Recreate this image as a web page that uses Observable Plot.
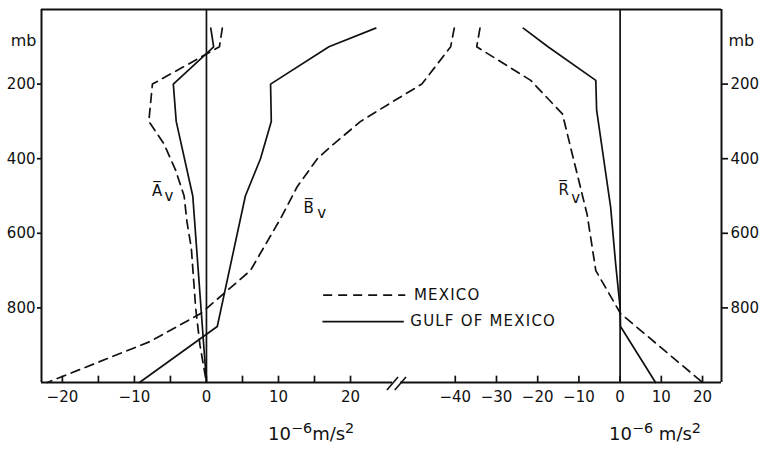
<!DOCTYPE html>
<html><head><meta charset="utf-8">
<script src="https://cdn.jsdelivr.net/npm/d3@7"></script>
<script src="https://cdn.jsdelivr.net/npm/@observablehq/plot@0.6"></script>
<style>
body{margin:0;background:#fff;}
#wrap{position:relative;width:765px;height:452px;font-family:"DejaVu Sans",sans-serif;color:#111;}
#wrap svg{position:absolute;left:0;top:0;}
.unit{position:absolute;top:425px;font-size:18px;line-height:1;white-space:nowrap;color:#111;}
.unit sup{font-size:0.8em;vertical-align:0.5em;line-height:0;}
</style></head><body>
<div id="wrap"></div>
<script>
// ---- data (pressure in mb, values in 10^-6 m/s^2) ----
const pAMexico = [50, 100, 200, 300, 360, 430, 500, 570, 640, 800, 900, 1000];
const aMexico  = [2.2, 1.8, -7.5, -8.0, -5.9, -4.3, -3.1, -2.7, -2.1, -1.5, -0.9, 0];
const pAGulf   = [50, 100, 200, 300, 500, 1000];
const aGulf    = [0.6, 1.0, -4.6, -4.2, -1.9, 0];

const pBMexico = [50, 100, 200, 250, 300, 360, 400, 475, 560, 700, 815, 890, 1000];
const bMexico  = [34.4, 33.9, 29.9, 25.6, 21.4, 17.7, 15.4, 12.6, 10.3, 6.1, -0.8, -7.8, -22.1];
const pBGulf   = [50, 100, 200, 300, 400, 500, 850, 1000];
const bGulf    = [23.5, 17.0, 8.9, 9.0, 7.5, 5.4, 1.5, -9.3];

const pRMexico = [50, 100, 190, 280, 550, 700, 815, 1000];
const rMexico  = [-34.0, -34.8, -21.7, -14.0, -8.0, -5.9, 0.1, 20.0];
const pRGulf   = [50, 100, 190, 270, 530, 680, 800, 850, 1000];
const rGulf    = [-23.5, -17.5, -5.9, -5.7, -2.3, -1.1, 0, 0.1, 8.6];

const yTicks        = [200, 400, 600, 800];
const leftTicks     = [-20, -15, -10, -5, 0, 5, 10, 15, 20];
const leftLabels    = [-20, -10, 0, 10, 20];
const rightTicks    = [-40, -30, -20, -10, 0, 10, 20];
const rightLabels   = [-40, -30, -20, -10, 0, 10, 20];
const seriesNames   = ["MEXICO", "GULF OF MEXICO"];

// ---- helpers ----
const rows = (p, v) => p.map((pp, i) => ({p: pp, v: v[i]}));
const ink = "#111";
const dash = "9,6";
const W = 765, H = 452;
const margins = {marginLeft: 41, marginRight: 44, marginTop: 9, marginBottom: 70};
const yScale = {domain: [1000, 0]};
const leftDomain = [-22.9, 71.5];
const rightDomain = [-140.4, 24.6];
const breakX = 26.4;           // axis break, in left-panel units
const tickLen = 17;            // inward tick length, mb
const style = {fontFamily: "DejaVu Sans, sans-serif", fontSize: "15px", background: "transparent", color: ink};

const left = Plot.plot({
  width: W, height: H, ...margins, style,
  x: {domain: leftDomain}, y: yScale,
  marks: [
    Plot.ruleY([0], {stroke: ink, strokeWidth: 2}),
    Plot.ruleX([leftDomain[0], leftDomain[1]], {stroke: ink, strokeWidth: 2}),
    Plot.ruleY([1000], {x1: leftDomain[0], x2: breakX - 0.55, stroke: ink, strokeWidth: 2}),
    Plot.ruleY([1000], {x1: breakX + 0.55, x2: leftDomain[1], stroke: ink, strokeWidth: 2}),
    Plot.link([{x1: breakX - 1.35, x2: breakX + 0.2, y1: 1020, y2: 985},
               {x1: breakX - 0.25, x2: breakX + 1.3, y1: 1020, y2: 985}],
              {x1: "x1", x2: "x2", y1: "y1", y2: "y2", stroke: ink, strokeWidth: 1.6}),
    Plot.ruleX([0], {stroke: ink, strokeWidth: 1.7}),
    Plot.ruleX(leftTicks, {y1: 1000, y2: 1000 - tickLen, stroke: ink, strokeWidth: 1.7}),
    Plot.axisX({ticks: leftLabels, tickSize: 0, tickPadding: 9, label: null, fontSize: 15}),
    Plot.axisY({anchor: "left", ticks: yTicks, tickSize: 4, tickPadding: 2, label: null, strokeWidth: 1.7, fontSize: 15}),
    Plot.text([{t: "mb", p: 84}], {text: "t", y: "p", frameAnchor: "left", textAnchor: "end", dx: -5, fontSize: 16}),
    Plot.line(rows(pAMexico, aMexico), {x: "v", y: "p", stroke: ink, strokeWidth: 1.7, strokeDasharray: dash}),
    Plot.line(rows(pAGulf, aGulf), {x: "v", y: "p", stroke: ink, strokeWidth: 1.7}),
    Plot.line(rows(pBMexico, bMexico), {x: "v", y: "p", stroke: ink, strokeWidth: 1.7, strokeDasharray: dash}),
    Plot.line(rows(pBGulf, bGulf), {x: "v", y: "p", stroke: ink, strokeWidth: 1.7}),
    // curve labels
    Plot.text([{t: "A\u0305", x: -6.85, p: 487}, {t: "B\u0305", x: 14.2, p: 533}], {text: "t", x: "x", y: "p", fontSize: 15}),
    Plot.text([{t: "v", x: -5.2, p: 500}, {t: "v", x: 16.0, p: 547}], {text: "t", x: "x", y: "p", fontSize: 15}),
    // legend
    Plot.link([{y: 766, s: seriesNames[0]}], {x1: 16.2, x2: 27.6, y1: "y", y2: "y", stroke: ink, strokeWidth: 1.7, strokeDasharray: dash}),
    Plot.link([{y: 837, s: seriesNames[1]}], {x1: 16.1, x2: 27.4, y1: "y", y2: "y", stroke: ink, strokeWidth: 1.7}),
    Plot.text([{s: seriesNames[0], x: 28.8, y: 766}, {s: seriesNames[1], x: 28.3, y: 835}],
              {text: "s", x: "x", y: "y", textAnchor: "start", fontSize: 15})
  ]
});

const right = Plot.plot({
  width: W, height: H, ...margins, style,
  x: {domain: rightDomain}, y: yScale,
  marks: [
    Plot.ruleX([0], {stroke: ink, strokeWidth: 1.7}),
    Plot.ruleX(rightTicks, {y1: 1000, y2: 1000 - tickLen, stroke: ink, strokeWidth: 1.7}),
    Plot.axisX({ticks: rightLabels, tickSize: 0, tickPadding: 9, label: null, fontSize: 15}),
    Plot.axisY({anchor: "right", ticks: yTicks, tickSize: 6, tickPadding: 3, label: null, strokeWidth: 1.7, fontSize: 15}),
    Plot.text([{t: "mb", p: 84}], {text: "t", y: "p", frameAnchor: "right", textAnchor: "start", dx: 7, fontSize: 16}),
    Plot.line(rows(pRMexico, rMexico), {x: "v", y: "p", stroke: ink, strokeWidth: 1.7, strokeDasharray: dash}),
    Plot.line(rows(pRGulf, rGulf), {x: "v", y: "p", stroke: ink, strokeWidth: 1.7}),
    Plot.text([{t: "R\u0305", x: -13.7, p: 485}], {text: "t", x: "x", y: "p", fontSize: 15}),
    Plot.text([{t: "v", x: -10.8, p: 505}], {text: "t", x: "x", y: "p", fontSize: 15})
  ]
});

// letter spacing on legend labels
d3.select(left).selectAll("text").filter(function() { return seriesNames.includes(this.textContent); })
  .attr("letter-spacing", "1.2px");

const wrap = document.getElementById("wrap");
wrap.appendChild(left);
wrap.appendChild(right);
const u1 = document.createElement("div");
u1.className = "unit"; u1.style.left = "268px";
u1.innerHTML = "10<sup>\u22126</sup>m/s<sup>2</sup>";
const u2 = document.createElement("div");
u2.className = "unit"; u2.style.left = "609px";
u2.innerHTML = "10<sup>\u22126</sup> m/s<sup>2</sup>";
wrap.appendChild(u1); wrap.appendChild(u2);
</script>
</body></html>
